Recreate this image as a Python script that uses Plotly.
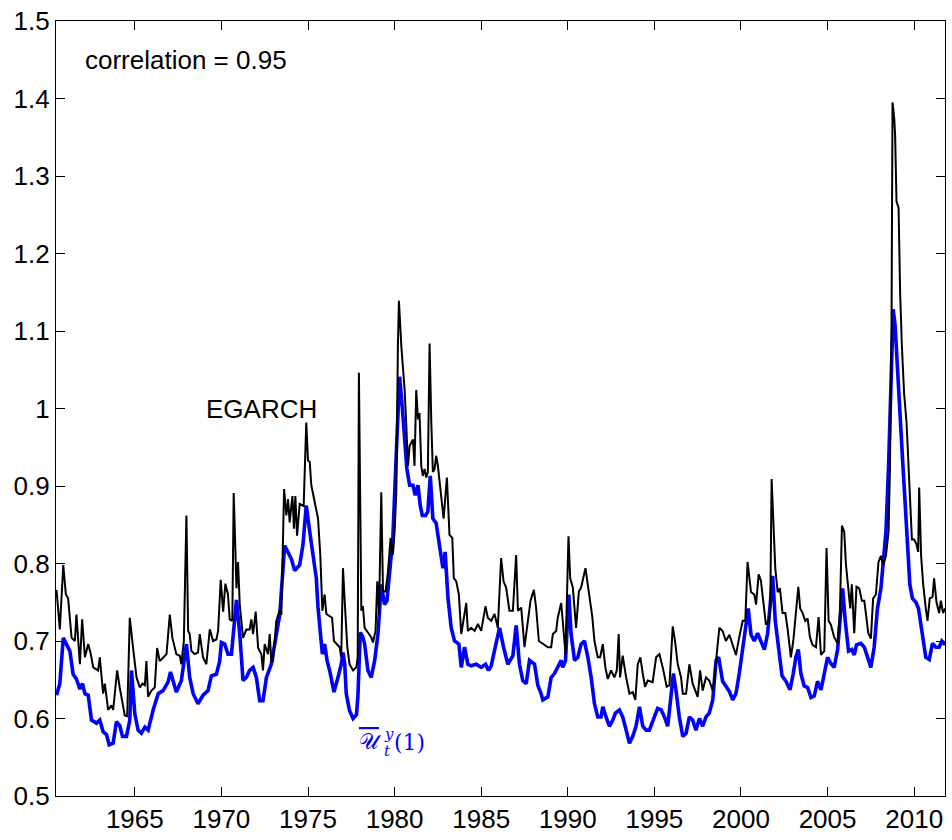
import plotly.graph_objects as go

# ---- data ----
egarch_years = [
    1960.48, 1960.67, 1960.87, 1961.02, 1961.15, 1961.35, 1961.54, 1961.63, 1961.83, 1961.96,
    1962.12, 1962.31, 1962.44, 1962.60, 1962.88, 1962.98, 1963.17, 1963.27, 1963.46, 1963.65,
    1963.75, 1963.98, 1964.13, 1964.23, 1964.42, 1964.56, 1964.71, 1964.90, 1965.10, 1965.29,
    1965.44, 1965.58, 1965.67, 1965.77, 1965.96, 1966.15, 1966.29, 1966.44, 1966.63, 1966.83,
    1967.02, 1967.17, 1967.40, 1967.60, 1967.69, 1967.83, 1967.98, 1968.08, 1968.17, 1968.27,
    1968.46, 1968.65, 1968.75, 1968.94, 1969.13, 1969.33, 1969.52, 1969.71, 1969.81, 1969.96,
    1970.10, 1970.23, 1970.38, 1970.48, 1970.63, 1970.71, 1970.87, 1970.96, 1971.06, 1971.25,
    1971.44, 1971.63, 1971.73, 1971.83, 1971.98, 1972.12, 1972.31, 1972.40, 1972.50, 1972.69,
    1972.79, 1972.88, 1972.98, 1973.17, 1973.37, 1973.46, 1973.62, 1973.75, 1973.85, 1973.94,
    1974.10, 1974.19, 1974.27, 1974.37, 1974.52, 1974.75, 1974.90, 1975.00, 1975.10, 1975.19,
    1975.39, 1975.58, 1975.71, 1975.83, 1975.96, 1976.06, 1976.25, 1976.39, 1976.50, 1976.64,
    1976.83, 1976.92, 1977.02, 1977.15, 1977.27, 1977.40, 1977.60, 1977.79, 1977.87, 1977.94,
    1978.08, 1978.17, 1978.27, 1978.46, 1978.65, 1978.75, 1978.90, 1979.00, 1979.10, 1979.23,
    1979.33, 1979.48, 1979.62, 1979.77, 1979.90, 1980.00, 1980.10, 1980.19, 1980.25, 1980.39,
    1980.58, 1980.67, 1980.77, 1980.87, 1981.06, 1981.15, 1981.25, 1981.35, 1981.44, 1981.54,
    1981.63, 1981.73, 1981.83, 1981.92, 1982.02, 1982.12, 1982.21, 1982.31, 1982.40, 1982.50,
    1982.69, 1982.83, 1983.02, 1983.17, 1983.33, 1983.42, 1983.56, 1983.71, 1983.85, 1983.94,
    1984.14, 1984.23, 1984.42, 1984.62, 1984.81, 1985.00, 1985.25, 1985.38, 1985.58, 1985.77,
    1985.96, 1986.15, 1986.29, 1986.44, 1986.63, 1986.83, 1987.02, 1987.12, 1987.31, 1987.50,
    1987.69, 1987.85, 1988.04, 1988.17, 1988.33, 1988.56, 1988.85, 1989.04, 1989.14, 1989.33,
    1989.42, 1989.62, 1989.71, 1989.87, 1990.04, 1990.14, 1990.29, 1990.48, 1990.64, 1990.77,
    1991.02, 1991.21, 1991.41, 1991.54, 1991.73, 1991.87, 1992.02, 1992.17, 1992.31, 1992.50,
    1992.69, 1992.83, 1992.94, 1993.02, 1993.17, 1993.37, 1993.56, 1993.75, 1993.90, 1994.04,
    1994.19, 1994.33, 1994.46, 1994.62, 1994.90, 1995.10, 1995.29, 1995.48, 1995.71, 1995.87,
    1996.06, 1996.19, 1996.35, 1996.54, 1996.64, 1996.83, 1997.02, 1997.21, 1997.40, 1997.50,
    1997.64, 1997.79, 1997.98, 1998.17, 1998.37, 1998.46, 1998.60, 1998.75, 1998.94, 1999.13,
    1999.33, 1999.52, 1999.71, 1999.90, 2000.10, 2000.25, 2000.38, 2000.58, 2000.77, 2000.87,
    2001.02, 2001.15, 2001.25, 2001.44, 2001.60, 2001.69, 2001.77, 2001.88, 2001.98, 2002.12,
    2002.25, 2002.40, 2002.56, 2002.69, 2002.88, 2003.02, 2003.17, 2003.31, 2003.42, 2003.56,
    2003.71, 2003.85, 2003.98, 2004.13, 2004.33, 2004.48, 2004.62, 2004.81, 2004.94, 2005.06,
    2005.19, 2005.38, 2005.58, 2005.71, 2005.83, 2005.96, 2006.06, 2006.19, 2006.31, 2006.40,
    2006.54, 2006.67, 2006.83, 2006.98, 2007.12, 2007.21, 2007.35, 2007.50, 2007.63, 2007.79,
    2007.94, 2008.08, 2008.21, 2008.37, 2008.52, 2008.60, 2008.69, 2008.75, 2008.85, 2008.90,
    2008.98, 2009.10, 2009.19, 2009.29, 2009.42, 2009.56, 2009.71, 2009.87, 2010.00, 2010.13,
    2010.23, 2010.29, 2010.40, 2010.52, 2010.67, 2010.77, 2010.90, 2011.06, 2011.15, 2011.29,
    2011.44, 2011.54, 2011.67, 2011.79,
]
egarch_vals = [
    0.766, 0.715, 0.798, 0.760, 0.755, 0.704, 0.700, 0.734, 0.670, 0.728,
    0.679, 0.696, 0.685, 0.666, 0.662, 0.679, 0.632, 0.645, 0.611, 0.617,
    0.611, 0.662, 0.640, 0.628, 0.604, 0.603, 0.730, 0.691, 0.653, 0.640,
    0.645, 0.643, 0.674, 0.628, 0.636, 0.640, 0.691, 0.674, 0.679, 0.683,
    0.734, 0.704, 0.683, 0.681, 0.670, 0.700, 0.862, 0.713, 0.709, 0.687,
    0.683, 0.685, 0.709, 0.679, 0.670, 0.715, 0.700, 0.702, 0.713, 0.779,
    0.738, 0.774, 0.760, 0.728, 0.726, 0.891, 0.768, 0.802, 0.747, 0.704,
    0.715, 0.715, 0.728, 0.709, 0.738, 0.691, 0.683, 0.662, 0.696, 0.683,
    0.709, 0.674, 0.674, 0.726, 0.740, 0.734, 0.896, 0.862, 0.883, 0.853,
    0.887, 0.845, 0.887, 0.836, 0.877, 0.874, 0.982, 0.933, 0.931, 0.901,
    0.879, 0.858, 0.811, 0.739, 0.760, 0.735, 0.732, 0.730, 0.700, 0.696,
    0.692, 0.679, 0.794, 0.739, 0.692, 0.670, 0.662, 0.666, 0.679, 1.046,
    0.739, 0.745, 0.717, 0.711, 0.705, 0.698, 0.713, 0.777, 0.735, 0.892,
    0.764, 0.764, 0.790, 0.833, 0.811, 0.841, 0.892, 1.080, 1.139, 1.080,
    1.024, 0.982, 0.926, 0.952, 0.960, 0.926, 1.024, 0.986, 0.994, 0.926,
    0.913, 0.922, 0.911, 0.918, 1.084, 0.982, 0.918, 0.922, 0.939, 0.926,
    0.888, 0.858, 0.911, 0.837, 0.833, 0.781, 0.777, 0.760, 0.709, 0.722,
    0.749, 0.713, 0.717, 0.713, 0.722, 0.713, 0.745, 0.730, 0.726, 0.735,
    0.717, 0.807, 0.777, 0.769, 0.739, 0.739, 0.811, 0.739, 0.743, 0.692,
    0.726, 0.752, 0.766, 0.743, 0.700, 0.696, 0.692, 0.692, 0.709, 0.713,
    0.730, 0.749, 0.722, 0.683, 0.835, 0.781, 0.769, 0.717, 0.764, 0.769,
    0.794, 0.764, 0.732, 0.700, 0.679, 0.679, 0.696, 0.666, 0.651, 0.662,
    0.653, 0.662, 0.709, 0.653, 0.681, 0.653, 0.632, 0.634, 0.624, 0.670,
    0.679, 0.658, 0.641, 0.649, 0.647, 0.679, 0.683, 0.666, 0.641, 0.643,
    0.719, 0.700, 0.670, 0.653, 0.632, 0.632, 0.670, 0.645, 0.632, 0.628,
    0.662, 0.636, 0.653, 0.649, 0.636, 0.649, 0.683, 0.717, 0.713, 0.700,
    0.708, 0.695, 0.682, 0.705, 0.726, 0.726, 0.802, 0.763, 0.760, 0.747,
    0.786, 0.778, 0.757, 0.721, 0.726, 0.742, 0.909, 0.846, 0.794, 0.763,
    0.768, 0.736, 0.736, 0.716, 0.679, 0.700, 0.742, 0.770, 0.742, 0.736,
    0.726, 0.729, 0.705, 0.695, 0.692, 0.731, 0.682, 0.687, 0.820, 0.726,
    0.721, 0.705, 0.697, 0.736, 0.849, 0.841, 0.799, 0.763, 0.742, 0.773,
    0.710, 0.770, 0.768, 0.752, 0.752, 0.736, 0.710, 0.703, 0.755, 0.760,
    0.802, 0.810, 0.797, 0.810, 0.841, 0.920, 1.097, 1.395, 1.374, 1.353,
    1.267, 1.259, 1.149, 1.081, 1.019, 0.982, 0.909, 0.831, 0.831, 0.825,
    0.815, 0.898, 0.810, 0.773, 0.742, 0.726, 0.755, 0.757, 0.781, 0.750,
    0.736, 0.752, 0.736, 0.742,
]

u_years = [
    1960.48, 1960.67, 1960.87, 1961.06, 1961.25, 1961.44, 1961.63, 1961.83, 1961.98, 1962.12,
    1962.31, 1962.50, 1962.79, 1962.98, 1963.17, 1963.37, 1963.52, 1963.75, 1963.94, 1964.13,
    1964.29, 1964.52, 1964.71, 1964.81, 1965.00, 1965.19, 1965.38, 1965.58, 1965.77, 1966.06,
    1966.35, 1966.63, 1966.92, 1967.06, 1967.21, 1967.40, 1967.69, 1967.88, 1967.98, 1968.17,
    1968.37, 1968.65, 1968.94, 1969.23, 1969.42, 1969.71, 1969.90, 1970.00, 1970.19, 1970.38,
    1970.58, 1970.87, 1971.06, 1971.25, 1971.44, 1971.63, 1971.83, 1972.02, 1972.21, 1972.40,
    1972.60, 1972.88, 1973.17, 1973.37, 1973.65, 1973.85, 1974.04, 1974.23, 1974.42, 1974.52,
    1974.71, 1974.90, 1975.10, 1975.29, 1975.48, 1975.58, 1975.71, 1975.83, 1975.96, 1976.10,
    1976.29, 1976.50, 1976.73, 1976.92, 1977.02, 1977.12, 1977.21, 1977.40, 1977.60, 1977.80,
    1977.88, 1978.02, 1978.17, 1978.27, 1978.46, 1978.65, 1978.85, 1979.04, 1979.23, 1979.42,
    1979.56, 1979.71, 1979.90, 1980.10, 1980.29, 1980.44, 1980.58, 1980.71, 1980.87, 1981.06,
    1981.19, 1981.35, 1981.48, 1981.60, 1981.79, 1981.92, 1982.06, 1982.21, 1982.40, 1982.60,
    1982.79, 1982.92, 1983.08, 1983.27, 1983.46, 1983.71, 1983.85, 1984.04, 1984.23, 1984.42,
    1984.71, 1985.00, 1985.25, 1985.42, 1985.58, 1985.77, 1986.06, 1986.29, 1986.54, 1986.83,
    1987.02, 1987.21, 1987.40, 1987.60, 1987.79, 1988.08, 1988.27, 1988.46, 1988.56, 1988.85,
    1989.04, 1989.23, 1989.42, 1989.62, 1989.71, 1989.87, 1990.06, 1990.19, 1990.39, 1990.58,
    1990.77, 1990.96, 1991.16, 1991.35, 1991.54, 1991.73, 1991.92, 1992.02, 1992.21, 1992.40,
    1992.60, 1992.75, 1992.98, 1993.17, 1993.37, 1993.56, 1993.75, 1993.94, 1994.14, 1994.33,
    1994.52, 1994.71, 1995.00, 1995.19, 1995.39, 1995.58, 1995.77, 1995.96, 1996.10, 1996.25,
    1996.44, 1996.64, 1996.83, 1997.02, 1997.21, 1997.40, 1997.60, 1997.79, 1997.98, 1998.17,
    1998.37, 1998.56, 1998.71, 1998.94, 1999.13, 1999.33, 1999.52, 1999.71, 1999.90, 2000.10,
    2000.29, 2000.42, 2000.58, 2000.77, 2000.96, 2001.15, 2001.35, 2001.54, 2001.73, 2001.83,
    2001.98, 2002.17, 2002.37, 2002.60, 2002.83, 2003.02, 2003.17, 2003.31, 2003.46, 2003.65,
    2003.85, 2004.04, 2004.23, 2004.42, 2004.62, 2004.81, 2005.00, 2005.19, 2005.38, 2005.58,
    2005.71, 2005.87, 2006.02, 2006.21, 2006.40, 2006.54, 2006.67, 2006.92, 2007.12, 2007.31,
    2007.50, 2007.69, 2007.88, 2008.08, 2008.21, 2008.37, 2008.52, 2008.65, 2008.79, 2008.90,
    2009.04, 2009.17, 2009.33, 2009.48, 2009.62, 2009.75, 2009.90, 2010.10, 2010.25, 2010.38,
    2010.52, 2010.67, 2010.87, 2011.06, 2011.25, 2011.44, 2011.60, 2011.79,
]
u_vals = [
    0.630, 0.645, 0.704, 0.696, 0.687, 0.657, 0.651, 0.638, 0.645, 0.632,
    0.630, 0.598, 0.594, 0.598, 0.583, 0.579, 0.566, 0.568, 0.596, 0.591,
    0.577, 0.577, 0.598, 0.662, 0.606, 0.585, 0.581, 0.589, 0.585, 0.611,
    0.632, 0.636, 0.647, 0.660, 0.649, 0.634, 0.649, 0.683, 0.696, 0.653,
    0.632, 0.619, 0.630, 0.636, 0.655, 0.657, 0.674, 0.698, 0.696, 0.683,
    0.683, 0.753, 0.709, 0.649, 0.653, 0.662, 0.666, 0.653, 0.623, 0.623,
    0.653, 0.670, 0.709, 0.734, 0.823, 0.815, 0.806, 0.791, 0.796, 0.798,
    0.824, 0.875, 0.841, 0.807, 0.781, 0.743, 0.705, 0.683, 0.696, 0.675,
    0.658, 0.634, 0.653, 0.670, 0.685, 0.670, 0.632, 0.610, 0.600, 0.605,
    0.628, 0.711, 0.705, 0.696, 0.662, 0.653, 0.675, 0.709, 0.773, 0.747,
    0.752, 0.790, 0.833, 0.943, 1.041, 1.003, 0.952, 0.922, 0.901, 0.901,
    0.888, 0.901, 0.875, 0.862, 0.862, 0.867, 0.913, 0.858, 0.852, 0.824,
    0.794, 0.815, 0.756, 0.717, 0.700, 0.696, 0.666, 0.692, 0.670, 0.668,
    0.670, 0.666, 0.670, 0.662, 0.668, 0.688, 0.717, 0.692, 0.670, 0.681,
    0.720, 0.670, 0.649, 0.645, 0.675, 0.670, 0.643, 0.632, 0.624, 0.628,
    0.653, 0.658, 0.666, 0.675, 0.666, 0.675, 0.760, 0.709, 0.675, 0.679,
    0.696, 0.700, 0.679, 0.653, 0.619, 0.602, 0.602, 0.615, 0.602, 0.590,
    0.598, 0.607, 0.611, 0.602, 0.585, 0.568, 0.577, 0.590, 0.615, 0.590,
    0.585, 0.585, 0.602, 0.613, 0.611, 0.602, 0.590, 0.628, 0.658, 0.636,
    0.602, 0.577, 0.581, 0.602, 0.598, 0.585, 0.600, 0.590, 0.602, 0.607,
    0.624, 0.675, 0.679, 0.648, 0.642, 0.635, 0.624, 0.632, 0.658, 0.689,
    0.726, 0.742, 0.708, 0.700, 0.710, 0.700, 0.689, 0.710, 0.757, 0.784,
    0.726, 0.689, 0.655, 0.648, 0.637, 0.658, 0.679, 0.689, 0.658, 0.642,
    0.640, 0.627, 0.629, 0.648, 0.637, 0.658, 0.679, 0.671, 0.666, 0.689,
    0.726, 0.768, 0.726, 0.687, 0.689, 0.682, 0.695, 0.697, 0.692, 0.679,
    0.666, 0.692, 0.742, 0.768, 0.797, 0.841, 0.925, 1.029, 1.128, 1.107,
    1.045, 0.992, 0.934, 0.877, 0.815, 0.773, 0.755, 0.750, 0.742, 0.721,
    0.700, 0.679, 0.676, 0.697, 0.692, 0.692, 0.700, 0.695,
]

x_tick_vals = [1965, 1970, 1975, 1980, 1985, 1990, 1995, 2000, 2005, 2010]
x_tick_text = ["1965", "1970", "1975", "1980", "1985", "1990", "1995", "2000", "2005", "2010"]
y_tick_vals = [0.5, 0.6, 0.7, 0.8, 0.9, 1.0, 1.1, 1.2, 1.3, 1.4, 1.5]
y_tick_text = ["0.5", "0.6", "0.7", "0.8", "0.9", "1", "1.1", "1.2", "1.3", "1.4", "1.5"]

corr_text = "correlation = 0.95"
egarch_label = "EGARCH"
u_label_main = "𝒰"
u_label_sup = "y"
u_label_sub = "t"
u_label_arg = "(1)"

FONT = "Liberation Sans, Arial, Helvetica, sans-serif"
MATH = "DejaVu Serif, serif"
BLUE = "#0000ff"

fig = go.Figure()
fig.add_trace(go.Scatter(x=u_years, y=u_vals, mode="lines",
                         line=dict(color=BLUE, width=3.6), showlegend=False))
fig.add_trace(go.Scatter(x=egarch_years, y=egarch_vals, mode="lines",
                         line=dict(color="#000000", width=2), showlegend=False))

fig.add_annotation(x=1962.0, y=1.45, xref="x", yref="y", text=corr_text,
                   showarrow=False, xanchor="left", yanchor="middle",
                   font=dict(family=FONT, size=26, color="black"))
fig.add_annotation(x=1972.33, y=1.0, xref="x", yref="y", text=egarch_label,
                   showarrow=False, xanchor="center", yanchor="middle",
                   font=dict(family=FONT, size=26, color="black"))

# blue label: overlined script U with stacked super/subscript, then (1)
lab_x, lab_y = 1977.85, 0.57
fig.add_annotation(x=lab_x, y=lab_y, xref="x", yref="y",
                   text="<span style='text-decoration:overline'>" + u_label_main + "</span>",
                   showarrow=False, xanchor="left", yanchor="middle",
                   font=dict(family=MATH, size=22, color=BLUE))
fig.add_annotation(x=lab_x, y=lab_y, xref="x", yref="y", text="<i>" + u_label_sup + "</i>",
                   showarrow=False, xanchor="left", yanchor="middle", xshift=25, yshift=8,
                   font=dict(family=MATH, size=15, color=BLUE))
fig.add_annotation(x=lab_x, y=lab_y, xref="x", yref="y", text="<i>" + u_label_sub + "</i>",
                   showarrow=False, xanchor="left", yanchor="middle", xshift=25, yshift=-9,
                   font=dict(family=MATH, size=15, color=BLUE))
fig.add_annotation(x=lab_x, y=lab_y, xref="x", yref="y", text=u_label_arg,
                   showarrow=False, xanchor="left", yanchor="middle", xshift=35, yshift=-1,
                   font=dict(family=MATH, size=22, color=BLUE))

axis_common = dict(showgrid=False, zeroline=False, showline=True, linecolor="black",
                   linewidth=1.2, mirror="allticks", ticks="inside", ticklen=9,
                   tickwidth=1.2, tickcolor="black",
                   tickfont=dict(family=FONT, size=26, color="black"))
fig.update_xaxes(range=[1960.45, 2011.78], tickvals=x_tick_vals, ticktext=x_tick_text,
                 **axis_common)
fig.update_yaxes(range=[0.5, 1.5], tickvals=y_tick_vals, ticktext=y_tick_text,
                 **axis_common)
fig.update_layout(width=952, height=840, plot_bgcolor="white", paper_bgcolor="white",
                  margin=dict(l=56, r=6, t=18, b=40), showlegend=False)

fig.write_html("out.html")
